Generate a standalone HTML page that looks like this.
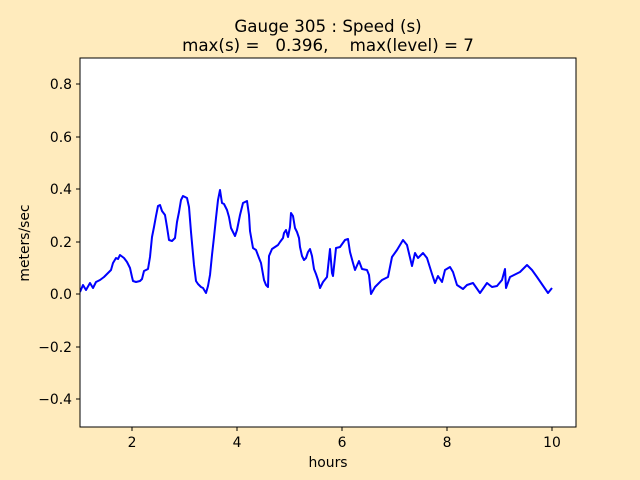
<!DOCTYPE html><html><head><style>body{margin:0;background:#ffebbd}svg{display:block}text{font-family:"DejaVu Sans",sans-serif;fill:#000}</style></head><body>
<svg width="640" height="480" viewBox="0 0 640 480">
<rect width="640" height="480" fill="#ffebbd"/>
<rect x="80" y="58" width="496" height="369" fill="#fff"/>
<clipPath id="c"><rect x="80" y="58" width="496" height="369"/></clipPath>
<polyline clip-path="url(#c)" fill="none" stroke="#0000ff" stroke-width="2" stroke-linejoin="round" points="80,292 83,285 86,290 90,283 93,288 96,282 100,280 104,277 108,273 111,270 113,263 116,258 118,259 120,255 124,258 127,262 130,268 132,277 133,281 136,282 140,281 142,279 144,271 148,269 150,257 152,237 154,227 156,216 158,206 160,205 162,211 165,215 167,227 169,240 172,241 175,238 177,222 179,212 181,200 183,196 185,197 187,198 189,207 191,232 194,265 196,281 198,284 201,287 203,288 206,293 208,286 210,275 212,255 214,237 216,218 218,200 220,190 222,203 224,204 227,210 229,217 231,228 233,232 235,236 237,230 240,215 243,203 247,201 249,215 250,231 253,248 256,250 259,258 261,263 264,280 266,285 268,287 269,256 272,249 275,247 278,245 280,242 283,238 284,233 286,230 288,237 290,227 291,213 293,216 295,228 297,232 299,238 300,247 302,256 304,260 306,258 308,252 310,249 312,256 314,269 316,274 318,280 320,288 323,282 327,277 330,249 332,273 333,276 336,248 340,247 345,240 348,239 350,252 353,263 355,270 359,261 362,269 367,270 369,275 371,294 375,287 382,280 388,277 392,257 397,250 403,240 407,245 412,266 415,253 418,258 423,253 427,258 432,274 435,283 438,276 442,282 445,270 450,267 453,272 457,285 463,289 467,285 473,283 480,293 487,283 492,287 497,286 502,280 505,269 506,288 510,277 520,272 527,265 532,270 537,277 548,293 552,288"/>
<rect x="80" y="58" width="496" height="369" fill="none" stroke="#000" stroke-width="1"/>
<g stroke="#000" stroke-width="1">
<line x1="132" y1="427" x2="132" y2="431"/><line x1="237" y1="427" x2="237" y2="431"/><line x1="342" y1="427" x2="342" y2="431"/><line x1="447" y1="427" x2="447" y2="431"/><line x1="552" y1="427" x2="552" y2="431"/>
<line x1="76" y1="84" x2="80" y2="84"/><line x1="76" y1="137" x2="80" y2="137"/><line x1="76" y1="189" x2="80" y2="189"/><line x1="76" y1="242" x2="80" y2="242"/><line x1="76" y1="294" x2="80" y2="294"/><line x1="76" y1="347" x2="80" y2="347"/><line x1="76" y1="399" x2="80" y2="399"/>
</g>
<g font-size="13.9" text-anchor="middle">
<text x="132" y="447">2</text><text x="237" y="447">4</text><text x="342" y="447">6</text><text x="447" y="447">8</text><text x="552" y="447">10</text>
<text x="328" y="467">hours</text>
</g>
<g font-size="13.9" text-anchor="end">
<text x="72" y="89">0.8</text><text x="72" y="142">0.6</text><text x="72" y="194">0.4</text><text x="72" y="247">0.2</text><text x="72" y="299">0.0</text><text x="72" y="352">−0.2</text><text x="72" y="404">−0.4</text>
</g>
<text font-size="13.9" text-anchor="middle" transform="translate(29,243) rotate(-90)">meters/sec</text>
<g font-size="16.7" text-anchor="middle">
<text x="328" y="32">Gauge 305 : Speed (s)</text>
<text x="328" y="51" xml:space="preserve">max(s) =   0.396,    max(level) = 7</text>
</g>
</svg></body></html>
